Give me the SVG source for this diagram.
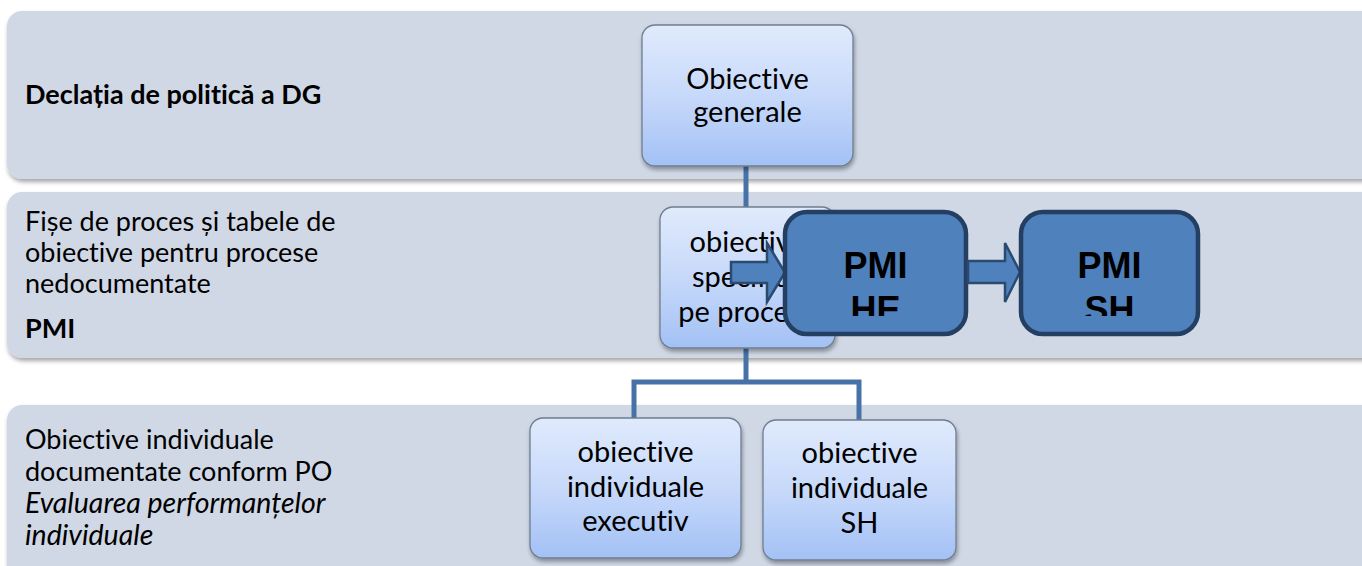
<svg xmlns="http://www.w3.org/2000/svg" width="1362" height="566" viewBox="0 0 1362 566">
<style>
text{font-variant-ligatures:none;font-feature-settings:"liga" 0,"clig" 0;}
.band{fill:#d0d8e6;}
.lt{font-family:Lato,"Liberation Sans",sans-serif;font-size:27px;fill:#000;}
.b{font-weight:bold;}
.i{font-style:italic;font-size:28.5px;}
.node{fill:url(#lg);stroke:#6f7d8f;stroke-width:1.3;}
.nt{font-family:Lato,"Liberation Sans",sans-serif;font-size:29px;fill:#000;text-anchor:middle;}
.conn{fill:none;stroke:#4672a8;stroke-width:5;}
.pmi{fill:#4f81bd;stroke:#243f62;stroke-width:4.5;}
.pt{font-family:"Liberation Sans",Arial,sans-serif;font-size:36px;font-weight:bold;fill:#000;text-anchor:middle;}
.arr{fill:#4f81bd;stroke:#2a4a70;stroke-width:2.5;stroke-linejoin:miter;}
</style>
<defs>
<linearGradient id="lg" x1="0" y1="0" x2="0" y2="1">
<stop offset="0" stop-color="#e0eafc"/>
<stop offset="0.5" stop-color="#c7d9fa"/>
<stop offset="1" stop-color="#a3c1f5"/>
</linearGradient>
<filter id="sh" x="-10%" y="-10%" width="120%" height="130%">
<feDropShadow dx="1" dy="3" stdDeviation="2" flood-color="#000" flood-opacity="0.35"/>
</filter>
<clipPath id="clipHE"><rect x="785" y="212" width="181" height="104"/></clipPath>
<clipPath id="clipSH"><rect x="1021" y="212" width="177" height="104"/></clipPath>
</defs>
<rect width="1362" height="566" fill="#ffffff"/>
<g id="bands">
<rect class="band" x="7" y="11" width="1375" height="168" rx="15" filter="url(#sh)"/>
<rect class="band" x="7" y="192" width="1375" height="166" rx="15" filter="url(#sh)"/>
<rect class="band" x="7" y="405" width="1375" height="190" rx="15" filter="url(#sh)"/>
</g>
<g id="band-labels">
<text class="lt b" x="25" y="104">Declația de politică a DG</text>
<text class="lt" x="25" y="231">Fișe de proces și tabele de</text>
<text class="lt" x="25" y="262">obiective pentru  procese</text>
<text class="lt" x="25" y="293">nedocumentate</text>
<text class="lt b" x="25" y="338">PMI</text>
<text class="lt" x="25" y="449">Obiective individuale</text>
<text class="lt" x="25" y="481">documentate conform PO</text>
<text class="lt i" x="25" y="513">Evaluarea performanțelor</text>
<text class="lt i" x="25" y="545">individuale</text>
</g>
<g id="connectors">
<line class="conn" x1="746" y1="165" x2="746" y2="208"/>
<polyline class="conn" points="746,348 746,382"/>
<polyline class="conn" points="634,418 634,382 859,382 859,420"/>
</g>
<g id="node-generale">
<rect class="node" x="642" y="25" width="211" height="141" rx="13" filter="url(#sh)"/>
<text class="nt" x="747.5" y="89">Obiective</text>
<text class="nt" x="747.5" y="122">generale</text>
</g>
<g id="node-specifice">
<rect class="node" x="660" y="207" width="175" height="141" rx="13" filter="url(#sh)"/>
<text class="nt" x="747.5" y="252">obiective</text>
<text class="nt" x="747.5" y="287">specifice</text>
<text class="nt" x="747.5" y="322">pe procese</text>
</g>
<g id="node-executiv">
<rect class="node" x="530" y="418" width="211" height="140" rx="13" filter="url(#sh)"/>
<text class="nt" x="635.5" y="462">obiective</text>
<text class="nt" x="635.5" y="497">individuale</text>
<text class="nt" x="635.5" y="531">executiv</text>
</g>
<g id="node-ind-sh">
<rect class="node" x="763" y="420" width="193" height="140" rx="13" filter="url(#sh)"/>
<text class="nt" x="859.5" y="463">obiective</text>
<text class="nt" x="859.5" y="498">individuale</text>
<text class="nt" x="859.5" y="533">SH</text>
</g>
<g id="arrows">
<polygon class="arr" points="731,262 767,262 767,243 785,272.5 767,302 767,283 731,283"/>
</g>
<g id="node-pmi-he">
<rect class="pmi" x="785" y="212" width="181" height="122" rx="22"/>
<g clip-path="url(#clipHE)">
<text class="pt" x="875.5" y="278">PMI</text>
<text class="pt" x="875.5" y="322">HE</text>
</g>
</g>
<g id="arrow-2">
<polygon class="arr" points="968,261 1005,261 1005,243 1020,272 1005,302 1005,283 968,283"/>
</g>
<g id="node-pmi-sh">
<rect class="pmi" x="1021" y="212" width="177" height="122" rx="22"/>
<g clip-path="url(#clipSH)">
<text class="pt" x="1109.5" y="278">PMI</text>
<text class="pt" x="1109.5" y="322">SH</text>
</g>
</g>
</svg>
